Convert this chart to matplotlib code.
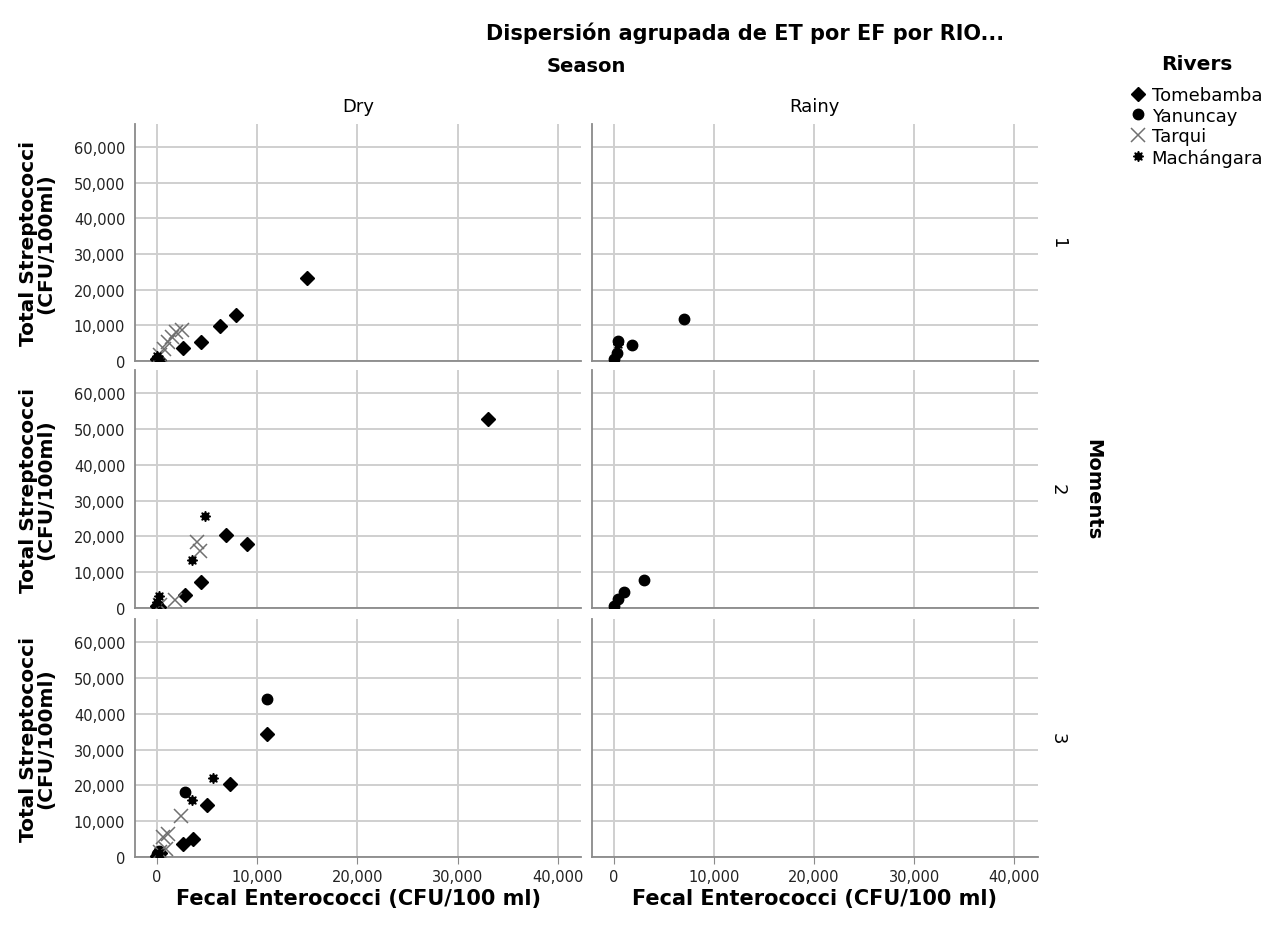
import numpy as np
import matplotlib
matplotlib.use('Agg')
import matplotlib.pyplot as plt
from matplotlib.lines import Line2D

# Grouped scatter: Total Streptococci vs Fecal Enterococci, by season / moment / river

rivers = ['Tomebamba', 'Yanuncay', 'Tarqui', 'Machángara']
seasons = ['Dry', 'Rainy']
moments = ['1', '2', '3']

# Dry season, moment 1
tome_dry1_x = [15000, 7900, 6300, 4400, 2600, 0, 200]
tome_dry1_y = [23200, 12800, 9700, 5200, 3700, 500, 300]
yanu_dry1_x = [100]
yanu_dry1_y = [300]
tarq_dry1_x = [2500, 1900, 1500, 1100, 700, 300]
tarq_dry1_y = [8700, 8200, 6700, 5300, 3500, 1800]
mach_dry1_x = [0, 200]
mach_dry1_y = [1400, 600]

# Dry season, moment 2
tome_dry2_x = [33000, 6900, 9000, 4400, 2800, 0, 200]
tome_dry2_y = [52900, 20500, 17800, 7200, 3600, 600, 200]
yanu_dry2_x = [100]
yanu_dry2_y = [500]
tarq_dry2_x = [4000, 4300, 1800, 300]
tarq_dry2_y = [18400, 15900, 2100, 800]
mach_dry2_x = [4800, 3500, 200, 0]
mach_dry2_y = [25600, 13400, 3400, 1800]

# Dry season, moment 3
tome_dry3_x = [11000, 7300, 5000, 3600, 2600, 300, 0]
tome_dry3_y = [34300, 20300, 14400, 5000, 3600, 1000, 400]
yanu_dry3_x = [11000, 2800, 200, 0]
yanu_dry3_y = [44100, 18300, 1600, 800]
tarq_dry3_x = [2400, 1100, 600, 900, 300]
tarq_dry3_y = [11500, 6400, 5600, 2300, 1500]
mach_dry3_x = [5600, 3500, 200]
mach_dry3_y = [22200, 15900, 1200]

# Rainy season, moment 1
yanu_rainy1_x = [7000, 1800, 400, 300, 0]
yanu_rainy1_y = [11900, 4400, 5600, 2300, 500]
mach_rainy1_x = [400]
mach_rainy1_y = [4800]

# Rainy season, moment 2
yanu_rainy2_x = [3000, 1000, 400, 0]
yanu_rainy2_y = [7900, 4400, 2400, 500]

styles = {
    'Tomebamba': dict(marker='D', color='black', ms=7.5, ls='none'),
    'Yanuncay': dict(marker='o', color='black', ms=7.5, ls='none'),
    'Tarqui': dict(marker='x', color='#707070', ms=10, mew=1.1, ls='none'),
    'Machángara': dict(marker=(8, 1, 0), color='black', ms=7.5, ls='none'),
}

panels = {
    ('Dry', '1'): [('Tomebamba', tome_dry1_x, tome_dry1_y), ('Yanuncay', yanu_dry1_x, yanu_dry1_y),
                   ('Tarqui', tarq_dry1_x, tarq_dry1_y), ('Machángara', mach_dry1_x, mach_dry1_y)],
    ('Dry', '2'): [('Tomebamba', tome_dry2_x, tome_dry2_y), ('Yanuncay', yanu_dry2_x, yanu_dry2_y),
                   ('Tarqui', tarq_dry2_x, tarq_dry2_y), ('Machángara', mach_dry2_x, mach_dry2_y)],
    ('Dry', '3'): [('Tomebamba', tome_dry3_x, tome_dry3_y), ('Yanuncay', yanu_dry3_x, yanu_dry3_y),
                   ('Tarqui', tarq_dry3_x, tarq_dry3_y), ('Machángara', mach_dry3_x, mach_dry3_y)],
    ('Rainy', '1'): [('Yanuncay', yanu_rainy1_x, yanu_rainy1_y), ('Machángara', mach_rainy1_x, mach_rainy1_y)],
    ('Rainy', '2'): [('Yanuncay', yanu_rainy2_x, yanu_rainy2_y)],
    ('Rainy', '3'): [],
}

W, H = 1275, 929
fig = plt.figure(figsize=(12.75, 9.29), dpi=100)

col_px = [(135, 581), (591.5, 1037.5)]
row_px = [(125, 362), (371, 609), (620, 858)]

grid_c = '#cfcfcf'
spine_c = '#8a8a8a'

for ci, season in enumerate(seasons):
    for ri, mom in enumerate(moments):
        x0, x1 = col_px[ci]
        yt, yb = row_px[ri]
        ax = fig.add_axes([x0 / W, 1 - yb / H, (x1 - x0) / W, (yb - yt) / H])
        for river, xs, ys in panels[(season, mom)]:
            ax.plot(xs, ys, **styles[river], zorder=3)
        ax.set_xlim(-2200, 42300)
        ax.set_ylim(0, 66500)
        ax.set_xticks([0, 10000, 20000, 30000, 40000])
        ax.set_yticks([0, 10000, 20000, 30000, 40000, 50000, 60000])
        ax.grid(True, color=grid_c, lw=1.4)
        ax.set_axisbelow(True)
        for s in ['top', 'right']:
            ax.spines[s].set_visible(False)
        for s in ['left', 'bottom']:
            ax.spines[s].set_color(spine_c)
            ax.spines[s].set_linewidth(1.3)
        ax.tick_params(axis='y', length=0, pad=7, labelsize=10.5, labelcolor='#222222')
        ax.tick_params(axis='x', length=5, color=spine_c, pad=4, labelsize=10.5, labelcolor='#222222')
        fmt = lambda v, p: f'{int(v):,}'
        ax.xaxis.set_major_formatter(plt.FuncFormatter(fmt))
        ax.yaxis.set_major_formatter(plt.FuncFormatter(fmt))
        if ci != 0:
            ax.tick_params(axis='y', labelleft=False)
        if ri != 2:
            ax.tick_params(axis='x', labelbottom=False, length=0)

# titles and facet labels
fig.text(745 / W, 1 - 33 / H, 'Dispersión agrupada de ET por EF por RIO...', ha='center', va='center',
         fontsize=15, fontweight='bold')
fig.text(586 / W, 1 - 66 / H, 'Season', ha='center', va='center', fontsize=14, fontweight='bold')
for ci, season in enumerate(seasons):
    cx = (col_px[ci][0] + col_px[ci][1]) / 2 / W
    fig.text(cx, 1 - 107 / H, season, ha='center', va='center', fontsize=13)
    fig.text(cx, 1 - 899 / H, 'Fecal Enterococci (CFU/100 ml)', ha='center', va='center',
             fontsize=15, fontweight='bold')
for ri, mom in enumerate(moments):
    cy = 1 - (row_px[ri][0] + row_px[ri][1]) / 2 / H
    fig.text(1058 / W, cy, mom, ha='center', va='center', fontsize=13, rotation=270)
    fig.text(37 / W, cy, 'Total Streptococci\n(CFU/100ml)', ha='center', va='center',
             fontsize=14.5, fontweight='bold', rotation=90, linespacing=0.9)
fig.text(1093 / W, 1 - 490 / H, 'Moments', ha='center', va='center', fontsize=14,
         fontweight='bold', rotation=270)

# legend
fig.text(1197 / W, 1 - 65 / H, 'Rivers', ha='center', va='center', fontsize=14.5, fontweight='bold')
handles = [Line2D([], [], **styles[r]) for r in rivers]
leg = fig.legend(handles, rivers, loc='upper left',
                 bbox_to_anchor=(1130 / W, 1 - 87 / H), frameon=False, fontsize=13,
                 handlelength=0.9, handletextpad=0.3, labelspacing=0.15,
                 borderaxespad=0, borderpad=0)

fig.savefig('out.png', dpi=100)
